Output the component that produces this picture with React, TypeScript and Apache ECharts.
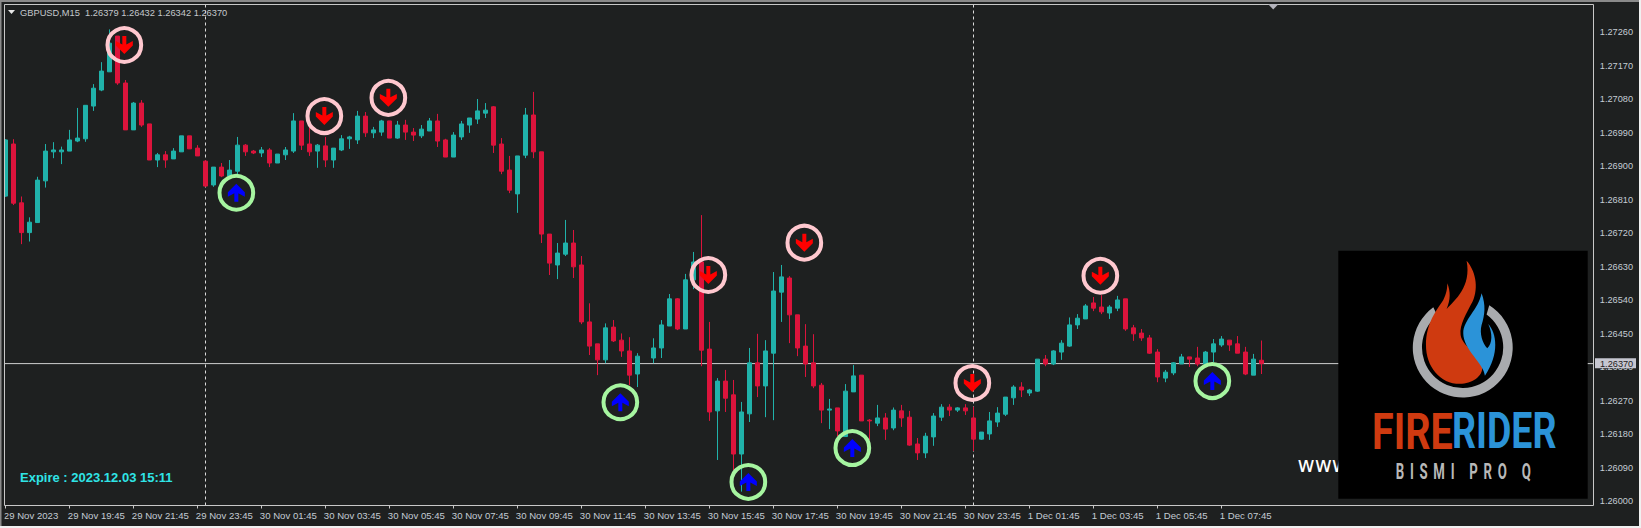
import React, { useEffect, useRef } from "react";
import * as echarts from "echarts";

// Prices are written in points above 1.26000 (1 point = 0.00001); null = no bar in that slot
const opens = [820,960,802,722,749,861,939,939,941,968,974,1062,1105,1154,1250,1124,998,1070,1014,917,931,920,939,982,949,914,850,898,874,887,957,941,936,944,909,931,941,1022,960,941,955,917,944,974,971,1035,990,992,1022,976,1011,992,982,995,1022,971,925,979,1011,1027,1043,1060,960,890,826,930,1038,939,718,635,664,694,635,482,423,380,468,433,404,342,null,385,412,471,544,463,595,643,409,243,323,286,127,235,372,310,398,562,600,501,417,372,312,245,251,174,294,339,218,210,224,197,243,226,154,130,173,226,253,245,251,224,167,181,213,234,278,307,291,296,382,369,401,417,474,490,533,522,506,519,544,466,452,439,401,331,345,369,388,385,369,401,420,433,423,401,339,379];
const closes = [971,801,722,750,863,941,944,944,971,976,1064,1110,1156,1231,1124,998,1070,1011,917,931,917,941,982,947,928,847,898,874,890,957,939,936,944,909,933,944,1022,957,939,957,917,949,974,979,1035,990,998,1022,976,1011,992,984,1000,1022,968,925,984,1014,1030,1049,1051,957,887,836,928,1038,939,718,640,667,694,630,482,417,380,466,431,404,339,390,null,412,474,544,463,595,643,406,240,323,277,127,240,372,310,404,565,603,501,412,369,310,245,248,189,296,337,216,216,224,194,245,224,151,130,175,229,253,245,251,243,167,186,216,237,280,307,299,299,382,369,404,425,474,492,525,519,509,522,541,463,450,439,398,334,347,372,388,382,369,401,423,436,420,398,342,382,370];
const highs = [973,973,819,763,872,960,965,953,998,1057,1064,1121,1180,1268,1250,1132,1073,1078,1014,936,941,949,982,982,957,917,898,909,917,979,960,944,952,949,933,952,1043,1022,1022,960,979,949,984,982,1049,1046,1006,1025,1022,1022,1025,1003,1011,1030,1041,974,992,1022,1030,1081,1070,1062,976,928,928,1057,1100,939,718,694,756,729,659,532,423,478,487,451,441,398,null,438,487,557,546,611,670,769,482,331,353,326,267,412,450,433,616,635,605,501,476,449,318,275,251,315,366,339,221,259,237,252,259,243,170,184,237,261,261,253,261,254,186,240,253,280,312,320,302,382,393,406,433,494,503,530,549,554,527,552,544,474,463,447,409,353,374,396,388,415,404,436,444,433,444,415,396,432];
const lows = [818,796,691,698,749,843,922,906,941,965,966,1049,1102,1154,1119,998,998,1006,917,898,896,920,939,947,928,845,845,871,874,879,928,933,925,898,909,917,936,944,928,896,898,896,941,947,960,979,976,982,976,974,971,968,976,995,952,925,925,971,990,1014,1030,936,879,828,775,922,922,694,608,597,659,600,476,393,339,371,428,388,312,307,null,371,385,471,460,463,570,363,216,111,240,84,26,213,280,226,218,482,425,390,334,304,210,194,175,174,294,216,165,202,165,191,200,149,111,116,149,216,229,240,232,135,165,165,200,229,259,280,283,294,363,366,380,415,463,490,511,503,490,511,458,431,431,396,320,320,339,369,361,363,363,374,415,404,398,339,339,342];

const signalDown = [[15,1226],[40,1035],[48,1084],[88,608],[100,695],[121,318],[137,606]];
const signalUp = [[29,829],[77,266],[93,52],[106,143],[151,323]];

const timeLabels = ["29 Nov 2023","29 Nov 19:45","29 Nov 21:45","29 Nov 23:45","30 Nov 01:45","30 Nov 03:45","30 Nov 05:45","30 Nov 07:45","30 Nov 09:45","30 Nov 11:45","30 Nov 13:45","30 Nov 15:45","30 Nov 17:45","30 Nov 19:45","30 Nov 21:45","30 Nov 23:45","1 Dec 01:45","1 Dec 03:45","1 Dec 05:45","1 Dec 07:45"];
const priceTicks = [1.2726,1.2717,1.2708,1.2699,1.269,1.2681,1.2672,1.2663,1.2654,1.2645,1.2636,1.2627,1.2618,1.2609,1.26];
const currentPrice = 1.2637;
const crosshairBars = [25, 121];
const header = "GBPUSD,M15  1.26379 1.26432 1.26342 1.26370";
const expiry = "Expire : 2023.12.03 15:11";

const BASE = 1.26;
const toPrice = (p: number) => +(BASE + p / 100000).toFixed(5);
const SLOTS = 199;
const categories = Array.from({ length: SLOTS }, (_, i) => (i % 8 === 0 && timeLabels[i / 8]) || String(i));
const isTimeTick = (i: number) => i % 8 === 0 && i / 8 < timeLabels.length;

const BG = "#1e2020";
const UP = "#20b2aa";
const DOWN = "#dc143c";
const FRAME = "#c8c8c8";
const LABEL = "#c4ccd4";

const ARROW_DOWN = "path://M6.5 0H10.5V8.5L17 5V9.5L8.5 18L0 9.5V5L6.5 8.5Z";
const ARROW_UP = "path://M6.5 18H10.5V9.5L17 13V8.5L8.5 0L0 8.5V13L6.5 9.5Z";

const LOGO_RING = "M100 172A150 150 0 1 0 268 166L260 194A122 122 0 1 1 112 197Z";
const LOGO_FLAME = "M200 32C225 60 238 110 218 155C200 190 178 225 182 255C188 290 235 310 247 350C250 380 215 402 180 402C120 402 78 350 78 285C78 220 110 180 130 150C140 130 142 115 142 100C152 125 152 150 140 177C165 150 215 110 200 32Z";
const LOGO_DROP = "M245 130C258 165 255 195 245 225C238 250 248 280 262 295C278 280 278 250 265 222C290 250 300 310 255 378C252 340 190 300 190 250C190 210 235 180 245 130Z";
echarts.graphic.registerShape("logoRing", echarts.graphic.extendPath(LOGO_RING, {}));
echarts.graphic.registerShape("logoFlame", echarts.graphic.extendPath(LOGO_FLAME, {}));
echarts.graphic.registerShape("logoDrop", echarts.graphic.extendPath(LOGO_DROP, {}));

const signalSeries = (points: number[][], ring: string, arrow: string, fill: string) => {
  const data = points.map(([i, p]) => [i, toPrice(p)]);
  return [
    {
      type: "scatter", data, silent: true, symbol: "circle", symbolSize: 33.7, symbolOffset: [-1, 0], z: 5,
      itemStyle: { color: "rgba(0,0,0,0)", borderColor: ring, borderWidth: 4, opacity: 1 },
    },
    {
      type: "scatter", data, silent: true, symbol: arrow, symbolSize: [17, 18], symbolOffset: [-1, 0], z: 6,
      itemStyle: { color: fill, opacity: 1 },
    },
  ];
};

export default function App() {
  const ref = useRef<HTMLDivElement>(null);
  useEffect(() => {
    document.body.style.margin = "0";
    const chart = echarts.init(ref.current!, undefined, { renderer: "svg" });
    const font = '"Liberation Sans", Arial, sans-serif';
    const logoScale = { x: 1400, y: 250, scaleX: 1 / 3, scaleY: 1 / 3 };
    chart.setOption({
      animation: false,
      backgroundColor: BG,
      grid: { left: 1.33, width: 1592, top: 4.5, height: 501 },
      xAxis: [
        {
          type: "category",
          data: categories,
          boundaryGap: true,
          axisLine: { show: false },
          axisTick: { show: true, alignWithLabel: true, interval: (i: number) => isTimeTick(i), length: 3, lineStyle: { color: FRAME } },
          axisLabel: {
            interval: (i: number) => isTimeTick(i),
            align: "left", margin: 5, padding: [0, 0, 0, -1.5], color: LABEL, fontSize: 9.6, fontFamily: font,
          },
          splitLine: { show: false },
        },
        { type: "value", show: false, min: 0, max: 1, splitLine: { show: false } },
      ],
      yAxis: {
        type: "value",
        position: "right",
        min: 1.259887,
        max: 1.273349,
        axisLine: { show: false },
        axisTick: { show: true, customValues: priceTicks, length: 3, lineStyle: { color: FRAME } },
        axisLabel: {
          customValues: priceTicks, margin: 6.5, color: LABEL, fontSize: 9.2, fontFamily: font,
          formatter: (v: number) => v.toFixed(5),
        },
        splitLine: { show: false },
      },
      series: [
        {
          type: "line",
          silent: true,
          showSymbol: false,
          z: 1,
          lineStyle: { width: 0 },
          data: [[0, currentPrice]],
          markLine: {
            silent: true,
            animation: false,
            z: 1,
            symbol: ["none", "none"],
            label: { show: false },
            data: crosshairBars.map((b) => ({ xAxis: b, lineStyle: { type: [3, 3], color: "#dcdcdc", width: 1 } })),
          },
        },
        {
          type: "line",
          silent: true,
          xAxisIndex: 1,
          showSymbol: false,
          z: 1,
          lineStyle: { color: "#cfcfcf", width: 1 },
          data: [[0, currentPrice], [1, currentPrice]],
        },
        {
          type: "candlestick",
          silent: true,
          barWidth: 5,
          z: 3,
          itemStyle: { color: UP, color0: DOWN, borderColor: UP, borderColor0: DOWN, borderWidth: 1 },
          data: opens.map((o, i) =>
            o == null
              ? ["-", "-", "-", "-"]
              : [toPrice(o), toPrice(closes[i]!), toPrice(lows[i]!), toPrice(highs[i]!)]
          ),
        },
        ...signalSeries(signalDown, "#ffc8cf", ARROW_DOWN, "#ff0000"),
        ...signalSeries(signalUp, "#a6f5a0", ARROW_UP, "#0000ff"),
      ],
      graphic: {
        elements: [
          // outer window edges
          { type: "rect", z: 90, shape: { x: 0, y: 0, width: 4.5, height: 528 }, style: { fill: BG } },
          { type: "rect", z: 91, shape: { x: 0, y: 0, width: 1641, height: 2 }, style: { fill: "#8a8a8a" } },
          { type: "rect", z: 91, shape: { x: 0, y: 0, width: 1.5, height: 528 }, style: { fill: "#8a8a8a" } },
          { type: "rect", z: 91, shape: { x: 1639, y: 0, width: 2, height: 528 }, style: { fill: "#f0f0f0" } },
          { type: "rect", z: 91, shape: { x: 0, y: 526, width: 1641, height: 2 }, style: { fill: "#f0f0f0" } },
          { type: "rect", z: 92, shape: { x: 4.5, y: 4.5, width: 1589, height: 501 }, style: { fill: "none", stroke: FRAME, lineWidth: 1 } },
          { type: "polygon", z: 93, shape: { points: [[8, 10], [15, 10], [11.5, 14]] }, style: { fill: "#e8e8e8" } },
          { type: "polygon", z: 93, shape: { points: [[1268, 4], [1278.5, 4], [1273.2, 9.5]] }, style: { fill: "#b4b4bc" } },
          { type: "text", z: 93, x: 20, y: 12.8, style: { text: header, fill: "#c4c8cc", fontFamily: font, fontSize: 9.3, verticalAlign: "middle" } },
          { type: "text", z: 93, x: 20, y: 477, style: { text: expiry, fill: "#2fe4e6", fontFamily: font, fontWeight: "bold", fontSize: 13, verticalAlign: "middle" } },
          { type: "text", z: 93, x: 1297.5, y: 464.5, style: { text: "www.", fill: "#ffffff", fontFamily: '"DejaVu Sans"', fontSize: 21, verticalAlign: "middle" } },
          // logo box
          { type: "rect", z: 95, shape: { x: 1338.3, y: 250.7, width: 249.4, height: 248 }, style: { fill: "#000000" } },
          { type: "logoRing", z: 96, ...logoScale, style: { fill: "#a9abae" } },
          { type: "logoFlame", z: 96, ...logoScale, style: { fill: "#cf3a10" } },
          { type: "logoDrop", z: 96, ...logoScale, style: { fill: "#2b93d8" } },
          { type: "text", z: 96, x: 1372, y: 431.5, scaleX: 0.79, style: { text: "FIRE", fill: "#cf3a10", fontFamily: "Roboto", fontWeight: "bold", fontSize: 50, verticalAlign: "middle" } },
          { type: "text", z: 96, x: 1452, y: 431.5, scaleX: 0.75, style: { text: "RIDER", fill: "#2b93d8", fontFamily: "Roboto", fontWeight: "bold", fontSize: 50, verticalAlign: "middle" } },
          { type: "text", z: 96, x: 1395.7, y: 471.5, scaleX: 0.6, style: { text: "BISMI PRO Q", fill: "#b8b8b8", fontFamily: "Roboto", fontWeight: "bold", fontSize: 22, verticalAlign: "middle" } },
          // current price box
          { type: "rect", z: 97, shape: { x: 1595, y: 358.3, width: 41, height: 10 }, style: { fill: "#c6c6d0" } },
          { type: "text", z: 98, x: 1600, y: 363.6, style: { text: "1.26370", fill: "#1e2020", fontFamily: font, fontSize: 9.2, verticalAlign: "middle" } },
        ],
      },
    });
    ref.current!.querySelectorAll("text").forEach((t) => {
      if (t.textContent === "BISMI PRO Q") (t as SVGTextElement).style.letterSpacing = "9.6px";
    });
    return () => chart.dispose();
  }, []);
  return <div ref={ref} style={{ position: "absolute", left: 0, top: 0, width: 1641, height: 528 }} />;
}
